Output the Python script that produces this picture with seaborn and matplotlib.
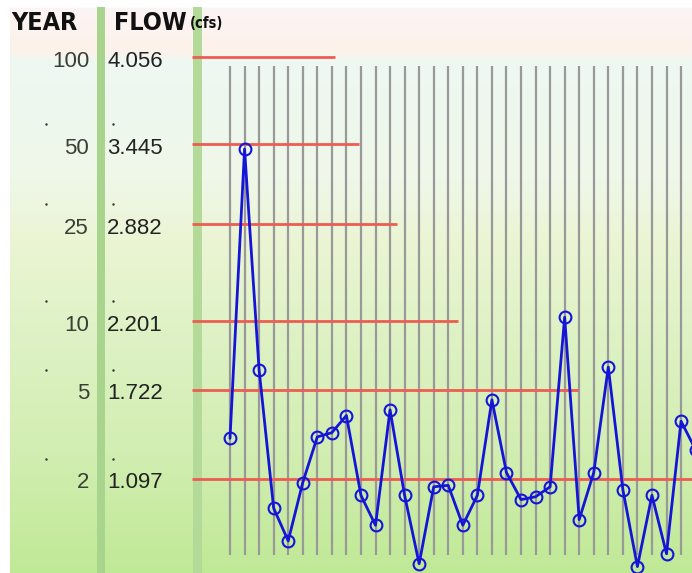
import numpy as np
import pandas as pd
import matplotlib
matplotlib.use("Agg")
import matplotlib.pyplot as plt
import matplotlib.transforms as mtransforms
from matplotlib.colors import to_rgb
import seaborn as sns

# Return-period table: recurrence interval (years) and the matching flow (cfs)
years = ["100", "50", "25", "10", "5", "2"]
flow_levels = [4.056, 3.445, 2.882, 2.201, 1.722, 1.097]
flow_labels = ["4.056", "3.445", "2.882", "2.201", "1.722", "1.097"]
# how far (in record index) each return-period line runs across the record
level_reach = [7.2, 8.9, 11.5, 15.7, 23.9, 40.0]

# Annual peak flow record (cfs)
annual_flow = [1.38, 3.41, 1.86, 0.89, 0.66, 1.07, 1.39, 1.42, 1.54, 0.98,
               0.77, 1.58, 0.98, 0.50, 1.04, 1.05, 0.77, 0.98, 1.65, 1.14,
               0.95, 0.97, 1.04, 2.23, 0.81, 1.14, 1.88, 1.02, 0.48, 0.98,
               0.57, 1.50, 1.30]

df = pd.DataFrame({"record": np.arange(len(annual_flow)), "flow": annual_flow})

sns.set_theme(style="white")
plt.rcParams["font.family"] = ["Liberation Sans", "DejaVu Sans"]

W, H = 692, 573
fig = plt.figure(figsize=(W / 100, H / 100), dpi=100)

# ---- background panel, in pixel units ----
bg = fig.add_axes([0, 0, 1, 1])
bg.set_xlim(0, W)
bg.set_ylim(H, 0)
bg.axis("off")

stops_y = [0, 7, 8, 50, 62, 180, 240, 330, 450, 573]
stops_c = ["#ffffff", "#ffffff", "#fdf4f5", "#fcf2ea", "#eef8f2", "#eff7e8",
           "#ebf5d4", "#dff2c6", "#d2eeb2", "#c0e996"]
rgb = np.array([to_rgb(c) for c in stops_c])
yy = np.arange(H) + 0.5
col = np.stack([np.interp(yy, stops_y, rgb[:, k]) for k in range(3)], axis=1)
img = np.repeat(col[:, None, :], W, axis=1)
img[:, :10, :] = 1.0
bg.imshow(img, extent=(0, W, H, 0), aspect="auto", zorder=0)

# column separators
for x0, x1, c in [(97, 105, "#a9d48d"), (193, 202, "#b3da98")]:
    bg.axvspan(x0, x1, ymin=0, ymax=1 - 7 / H, color=c, lw=0, zorder=1)

head_kw = dict(fontweight="bold", family="DejaVu Sans", fontstretch="condensed",
               color="#111111", va="baseline", ha="left", zorder=5)
bg.text(11, 30, "YEAR", fontsize=18, **head_kw)
bg.text(114, 30, "FLOW", fontsize=18, **head_kw)
bg.text(190, 28, "(cfs)", fontsize=10.5, **head_kw)

# ---- data axes mapped onto the panel ----
ax = fig.add_axes([0, 0, 1, 1])
ax.patch.set_alpha(0)
x0_pix, dx_pix = 230.0, 14.55
v0, px_per_unit, y0_pix = 4.056, 142.5, 57.0
xlim = (-x0_pix / dx_pix, (W - x0_pix) / dx_pix)
ylim = (v0 - (H - y0_pix) / px_per_unit, v0 + y0_pix / px_per_unit)

# vertical record grid lines
grid_tr = mtransforms.blended_transform_factory(ax.transData, bg.transData)
ax.vlines(df["record"], 66, 555, transform=grid_tr, color="#999999", lw=1.6, zorder=2)

# return-period reference lines
line_start = (192 - x0_pix) / dx_pix
ax.hlines(flow_levels, line_start, level_reach, color="#ee5c52", lw=2.0, zorder=3)

# labels of the return-period table
lab_tr = mtransforms.blended_transform_factory(bg.transData, ax.transData)
lab_off = mtransforms.offset_copy(lab_tr, fig=fig, x=0, y=-4, units="dots")
dot_off = mtransforms.offset_copy(lab_tr, fig=fig, x=0, y=20, units="dots")
for i, (yr, lv, fl) in enumerate(zip(years, flow_levels, flow_labels)):
    ax.text(89, lv, yr, transform=lab_off, ha="right", va="center",
            fontsize=16, color="#3a3f36", zorder=5)
    ax.text(107, lv, fl, transform=lab_off, ha="left", va="center",
            fontsize=16, color="#222222", zorder=5)
    if i > 0:
        ax.scatter([46, 113], [lv, lv], transform=dot_off, s=3,
                   color="#333333", lw=0, zorder=5)

# annual peak flow series
sns.lineplot(data=df, x="record", y="flow", ax=ax, color="#1515d8", lw=2.0,
             marker="o", markersize=8.5, markerfacecolor="none",
             markeredgecolor="#1515d8", markeredgewidth=1.5, zorder=4)
ax.set_xlim(*xlim)
ax.set_ylim(*ylim)
ax.axis("off")

fig.savefig("out.png", dpi=100)
